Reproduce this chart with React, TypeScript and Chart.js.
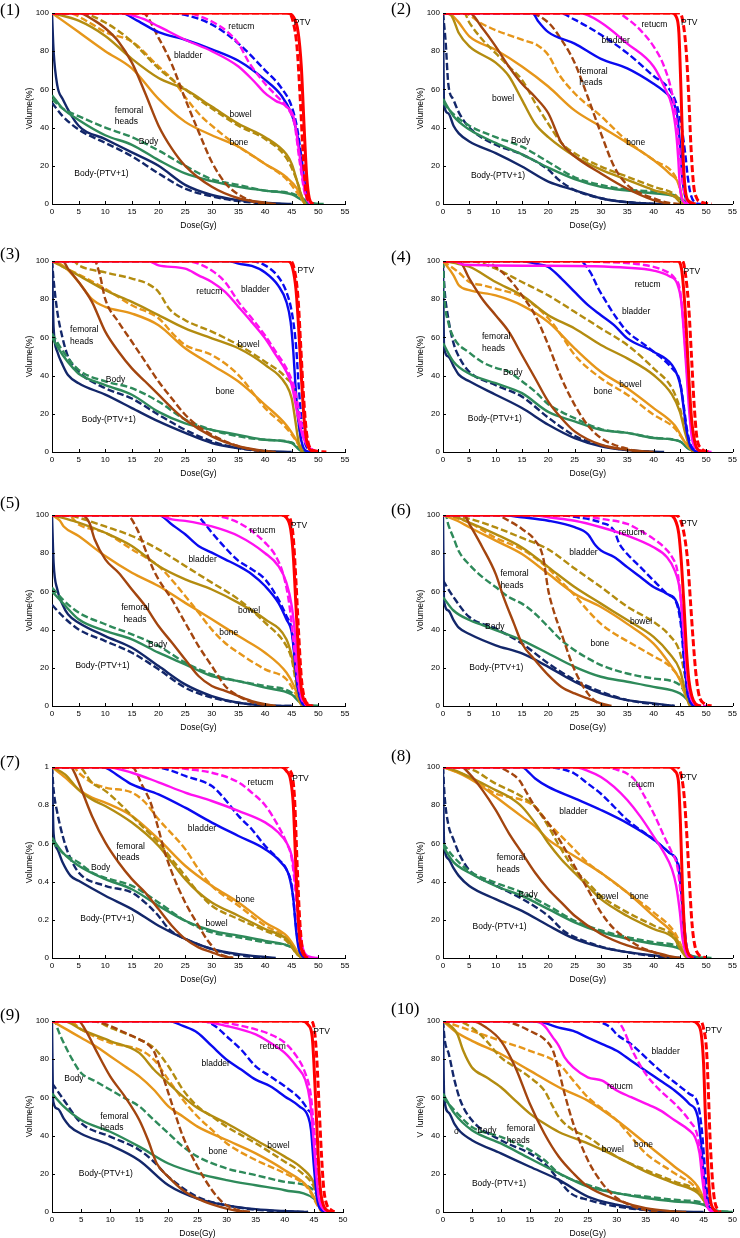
import React, { useEffect, useRef } from 'react';
import { Chart, registerables } from 'chart.js';
Chart.register(...registerables);
Chart.defaults.font.family = '"Liberation Sans", Arial, sans-serif';

type Pt = [number, number];
type Label = [string, number, number];

// ---------- tick labels ----------
const X_TICKS_55 = ['0', '5', '10', '15', '20', '25', '30', '35', '40', '45', '50', '55'];
const X_TICKS_50 = ['0', '5', '10', '15', '20', '25', '30', '35', '40', '45', '50'];
const Y_TICKS_PCT = ['0', '20', '40', '60', '80', '100'];
const Y_TICKS_FRAC = ['0', '0.2', '0.4', '0.6', '0.8', '1'];

// structures (order of curves inside each panel: solid, dashed)
const STRUCTURES = ['PTV', 'retucm', 'bladder', 'femoral heads', 'bowel', 'bone', 'Body', 'Body-(PTV+1)'];

// ---------- panel (1) ----------
const P1_PTV_S: Pt[] = [[0,100],[44,100],[45.3,98],[46.2,90],[46.8,72],[47.3,42],[47.8,15],[48.3,3],[49,0]];
const P1_PTV_D: Pt[] = [[0,100],[44.5,100],[45.3,95],[46,82],[46.6,55],[47.1,28],[47.6,8],[48.3,1],[49,0]];
const P1_REC_S: Pt[] = [[0,100],[13,100],[17,97],[20,93],[25,86],[30,80],[35,72],[38,64],[40,58],[42,54],[44,51],[45.5,44],[46.5,25],[47.5,6],[48.5,0]];
const P1_REC_D: Pt[] = [[0,100],[25,100],[28,98],[31,94],[33,90],[35,84],[37,74],[40,63],[42,57],[44,51],[45.5,42],[46.5,22],[47.5,5],[48.5,0]];
const P1_BLA_S: Pt[] = [[0,100],[13,100],[16,96],[20,90],[25,86],[30,81],[35,75],[40,65],[43,57],[45,47],[46,37],[46.8,22],[47.5,8],[48.2,1],[49,0]];
const P1_BLA_D: Pt[] = [[0,100],[22,100],[25,99],[30,94],[35,84],[40,70],[43,61],[45,51],[46,40],[46.8,25],[47.5,10],[48.3,1],[49,0]];
const P1_FEM_S: Pt[] = [[0,100],[5,100],[8,96],[10,92],[12.5,85],[15,74],[17.5,58],[20,41],[22.5,29],[25,20],[30,9],[35,3],[40,0.7],[42,0]];
const P1_FEM_D: Pt[] = [[0,100],[17,100],[20,87],[22.5,73],[25,55],[27.5,38],[30,22],[32.5,11],[35,5],[38,1],[40,0]];
const P1_BOW_S: Pt[] = [[0,100],[5,96],[10,88],[15,76],[20,66],[25,60],[30,51],[35,42],[40,35],[44,26],[45,21],[46,12],[47,3],[47.5,0]];
const P1_BOW_D: Pt[] = [[0,100],[5,100],[10,95],[15,85],[20,71],[25,60],[30,50],[35,41],[40,34],[44,24],[46,12],[47,3],[47.5,0]];
const P1_BON_S: Pt[] = [[0,100],[2,96],[5,90],[10,80],[15,71],[20,55],[25,43],[30,36],[35,30],[40,21],[44,14],[46,8],[47,2],[47.5,0]];
const P1_BON_D: Pt[] = [[0,100],[3,100],[7,95],[10,90],[15,85],[20,72],[23,64],[25,56],[28,46],[30,41],[35,30],[40,21],[44,13],[46,6],[47.5,0]];
const P1_BODY_S: Pt[] = [[0,57],[2,50],[5,44],[10,36],[15,31],[20,23],[25,16],[30,12],[35,9],[40,7],[45,5],[47,2],[48,0.5],[51,0]];
const P1_BODY_D: Pt[] = [[0,55],[2,50],[5,46],[10,40],[15,35],[20,28],[25,20],[30,13],[35,10],[40,7],[45,5.5],[47,3],[48,1],[50,0]];
const P1_BPT_S: Pt[] = [[0,100],[0.3,80],[1,62],[2,55],[5,41],[10,34],[15,27],[20,20],[25,10],[30,4.7],[35,2],[40,0.7],[45,0]];
const P1_BPT_D: Pt[] = [[0,53],[2,46],[5,39],[10,32],[15,25],[20,16],[25,8],[30,4],[35,1.5],[40,0.3],[43,0]];
const P1_LABELS: Label[] = [['PTV',45.4,95],['retucm',33.1,93],['bladder',22.9,77.6],['bowel',33.3,46.7],['femoral',11.8,49],['heads',11.8,43],['Body',16.3,32.7],['bone',33.3,32],['Body-(PTV+1)',4.2,15.7]];

// ---------- panel (2) ----------
const P2_PTV_S: Pt[] = [[0,100],[43.5,100],[44.3,98],[44.8,90],[45.2,60],[45.6,25],[46,8],[46.5,2],[48,0]];
const P2_PTV_D: Pt[] = [[0,100],[45,100],[45.6,95],[46.2,80],[46.7,55],[47.1,30],[47.6,10],[48.2,3],[49,1],[51,0]];
const P2_REC_S: Pt[] = [[0,100],[26,100],[30,95],[35,84],[40,72],[42,61.5],[43.5,51],[44.3,37],[44.7,23],[45,9],[45.5,2],[46.5,0]];
const P2_REC_D: Pt[] = [[0,100],[33,100],[35,97],[37.5,91],[40,82.5],[42,72],[43.5,58],[44.5,40.5],[45.2,20],[45.7,8],[46.5,1],[47.5,0]];
const P2_BLA_S: Pt[] = [[0,100],[17,100],[18,96],[20,90],[25,84],[30,76],[35,71],[40,63],[42,59],[43.5,54.5],[44.5,46],[45,32],[45.5,12.5],[46,4],[47,0]];
const P2_BLA_D: Pt[] = [[0,100],[22,100],[25,96.5],[30,88.6],[35,79],[40,67],[43,60],[44.5,51],[45.3,40.5],[46,26.6],[46.5,14],[47,5.6],[48,0.5],[49,0]];
const P2_FEM_S: Pt[] = [[0,100],[5,100],[7.5,92],[10,82.5],[12.5,72],[15,63],[17.5,56],[20,47.5],[22.5,32],[25,25],[30,16],[35,8],[40,2],[43,0]];
const P2_FEM_D: Pt[] = [[0,100],[16,100],[20,95],[22.5,86],[25,74],[27.5,56],[30,37],[32.5,19.6],[35,10],[37.5,5.6],[40,3],[43,0.5],[45,0]];
const P2_BOW_S: Pt[] = [[0,100],[1.5,99],[2,96.5],[3,89.5],[5,82.5],[10,74],[12.5,67],[15,54.5],[17.5,42],[20,35],[25,25],[30,18],[35,12.6],[40,7.3],[44,3.8],[45,1],[45.5,0]];
const P2_BOW_D: Pt[] = [[0,100],[4,100],[5,95],[7.5,86],[10,79],[12.5,72],[15,65],[17.5,53],[20,42],[22.5,32],[25,26.6],[30,19.6],[35,14.3],[40,9],[44,5],[45,2],[45.5,0]];
const P2_BON_S: Pt[] = [[0,100],[1,100],[2.7,96],[5,87.8],[10,80.8],[15,72],[20,61.5],[25,49],[30,40.5],[35,32],[40,23],[43,16],[45,9],[45.5,2],[46,0]];
const P2_BON_D: Pt[] = [[0,100],[4,100],[7,95],[10,91],[15,86],[18,83],[20,78],[22,68],[25,58],[30,46],[35,33],[40,23],[44,15],[45,8],[45.5,2],[46,0]];
const P2_BODY_S: Pt[] = [[0,55],[2,46],[5,39],[10,32],[15,26],[20,19],[25,13],[30,9],[35,7],[40,5.6],[44,4],[46,1],[47,0]];
const P2_BODY_D: Pt[] = [[0,53],[2,47],[5,41],[10,35],[15,30],[20,22],[25,14],[30,10],[35,7.5],[40,6.5],[44,4.5],[46,1.5],[48,0]];
const P2_BPT_S: Pt[] = [[0,100],[0.2,52],[1,47.5],[2,41],[3,37],[5,32.7],[10,26.6],[15,19.6],[20,11.7],[25,7.3],[30,3],[35,0.9],[40,0.2],[43,0]];
const P2_BPT_D: Pt[] = [[0,100],[0.5,85],[1,63],[2,54.5],[3,48],[5,40],[10,31],[15,26],[20,18],[22,12.6],[25,7.3],[30,3],[35,1],[40,0]];
const P2_LABELS: Label[] = [['PTV',45.2,95],['retucm',37.7,93.9],['bladder',30.1,85.5],['femoral',25.9,69.4],['heads',25.9,63.3],['bowel',9.3,54.9],['Body',12.9,33.2],['bone',34.8,32.2],['Body-(PTV+1)',5.3,14.7]];

// ---------- panel (3) ----------
const P3_PTV_S: Pt[] = [[0,100],[44.3,100],[45.2,96],[45.8,85],[46.3,65],[46.8,40],[47.3,18],[47.8,6],[48.5,1],[50,0]];
const P3_PTV_D: Pt[] = [[0,100],[44.8,100],[45.6,94],[46.2,80],[46.7,55],[47.2,30],[47.7,12],[48.3,3],[49.5,0.5],[51.5,0]];
const P3_REC_S: Pt[] = [[0,100],[18,100],[20,97.7],[25,96],[27.5,92.5],[30,89],[32.5,83.8],[35,76],[37.5,68],[40,59.5],[42,50.8],[44,42],[45,35],[46,21],[47,9],[48,3],[49,1],[50,0]];
const P3_REC_D: Pt[] = [[0,100],[25,100],[27.5,98.6],[30,95],[32.5,89],[35,78.6],[37.5,70],[40,61],[42,52.5],[44,43.8],[45.5,33.4],[46.5,19.5],[47.5,7],[48.5,2],[50,0]];
const P3_BLA_S: Pt[] = [[0,100],[33,100],[35,98.6],[37.5,97.4],[40,94],[42.5,87],[44,78.6],[44.8,68],[45.3,52.5],[45.7,35],[46.2,17.7],[46.8,6],[47.5,1],[48.5,0]];
const P3_BLA_D: Pt[] = [[0,100],[37,100],[40,97.7],[42.5,91.6],[44,83.8],[45,73.4],[45.8,56],[46.3,35],[46.8,17.7],[47.3,7],[48,1.5],[49,0]];
const P3_FEM_S: Pt[] = [[0,100],[2,100],[3,96],[5,89],[7.5,78.6],[10,63],[12.5,52.5],[15,43.8],[17.5,36.9],[20,30],[22.5,23],[25,16.9],[30,8.2],[35,3],[40,0.5],[42,0]];
const P3_FEM_D: Pt[] = [[0,100],[8,100],[9,92.5],[10,80],[12.5,68],[15,57.7],[17.5,47.3],[20,36.9],[22.5,28],[25,19.5],[27.5,13.4],[30,9],[32.5,5.6],[35,3],[38,1],[40,0]];
const P3_BOW_S: Pt[] = [[0,100],[5,92.5],[10,84.7],[15,78.6],[20,71.7],[25,64.7],[30,59.5],[35,54.3],[40,45.6],[44,35],[45,28],[45.7,16],[46.3,5],[47,0]];
const P3_BOW_D: Pt[] = [[0,100],[4,100],[5,97.7],[10,94],[15,90.8],[18,88],[20,83.8],[22,75],[25,69],[30,63],[35,56],[40,47.3],[44,38.6],[45.5,31.6],[46.3,15],[47,0]];
const P3_BON_S: Pt[] = [[0,100],[2,97.7],[5,89],[7.5,80],[10,76],[15,72.5],[20,66.4],[25,54.3],[30,45.6],[35,36.9],[40,24.7],[44,14],[46,5.5],[47,0]];
const P3_BON_D: Pt[] = [[0,100],[2,97],[5,93],[10,85.5],[15,76.8],[20,70],[23,61],[25,56],[30,50.8],[35,40.3],[40,23],[44,12.5],[46,5],[47,0]];
const P3_BODY_S: Pt[] = [[0,60],[2,50.8],[4,43.8],[5,41],[10,35],[15,30],[20,21],[25,15],[30,11.6],[35,9],[40,6.4],[45,4.7],[46.5,1],[48,0]];
const P3_BODY_D: Pt[] = [[0,62],[2,53],[5,43],[10,37],[15,33.4],[20,26.4],[25,17],[30,11.6],[35,8.2],[40,6.4],[45,5],[46.5,1.5],[48,0]];
const P3_BPT_S: Pt[] = [[0,100],[0.3,65],[1,52.5],[2,45.6],[3,40.3],[5,36],[10,30],[15,23],[20,16],[25,10],[30,4.7],[35,2],[40,0.5],[45,0]];
const P3_BPT_D: Pt[] = [[0,100],[0.3,90],[1,73.4],[2,59.5],[3,50],[5,42],[10,33.4],[15,28],[20,19.5],[25,11.6],[30,5.6],[35,2],[40,0.3],[42,0]];
const P3_LABELS: Label[] = [['PTV',46.1,95],['retucm',27.1,84],['bladder',35.5,85],['femoral',3.4,63.8],['heads',3.4,57.7],['bowel',34.8,56.3],['Body',10.1,37.7],['bone',30.7,31.7],['Body-(PTV+1)',5.6,16.9]];

// ---------- panel (4) ----------
const P4_PTV_S: Pt[] = [[0,100],[44.5,100],[45.3,96],[45.8,82],[46.2,64.7],[46.7,38.6],[47.2,17.7],[47.8,5.6],[48.5,1],[50,0]];
const P4_PTV_D: Pt[] = [[0,100],[45.5,100],[46.2,90],[46.7,75],[47.2,50],[47.7,25],[48.2,8],[49,2],[50.5,0]];
const P4_REC_S: Pt[] = [[0,100],[2,100],[4,98],[20,97.5],[35,96.5],[40,95],[43,92],[44.5,88],[45.3,78],[45.8,60],[46.3,40],[46.8,20],[47.3,7],[48,2],[49.5,0.5],[51,0]];
const P4_REC_D: Pt[] = [[0,100],[20,100],[30,99.5],[38,98],[42,95],[44,91],[45,85],[45.6,70],[46.2,48],[46.8,25],[47.3,10],[48,3],[49,0.5],[50.5,0]];
const P4_BLA_S: Pt[] = [[0,100],[15,100],[17.5,98.6],[20,96.9],[22.5,90.8],[25,83.8],[27.5,77],[30,71.6],[32.5,66.4],[35,59.5],[40,52.5],[43.5,45.6],[44.5,40.3],[45.2,33.4],[45.8,21],[46.3,10.8],[47,3],[48,0.5],[49,0]];
const P4_BLA_D: Pt[] = [[0,100],[26,100],[28,94],[29.5,85.6],[31,78.6],[33,70],[35,63],[37.5,57.7],[40,52.5],[43.5,43.8],[45,36.9],[45.7,24.7],[46.3,12.5],[47,4],[48,1],[49,0]];
const P4_FEM_S: Pt[] = [[0,100],[3,100],[5,90.8],[7.5,80],[10,71.6],[12.5,63],[15,50.8],[17.5,38.6],[20,26.4],[22.5,17.7],[25,10.8],[30,3.8],[35,1.2],[40,0]];
const P4_FEM_D: Pt[] = [[0,100],[8,100],[10,96.9],[12.5,90.8],[15,82],[17.5,71.6],[20,56],[22.5,38.6],[25,24.7],[27.5,14],[30,7.3],[32.5,3.8],[35,1.7],[37,0]];
const P4_BOW_S: Pt[] = [[0,100],[2,99],[5,97],[10,89],[15,82],[20,71.6],[25,64.7],[30,56],[35,49],[40,40.3],[43.5,30],[45,21],[46,10],[46.8,3],[47.5,0]];
const P4_BOW_D: Pt[] = [[0,100],[5,100],[10,96],[15,89],[20,82],[25,73.4],[30,64.7],[35,56],[40,43.8],[43.5,33.4],[45,23],[46,12],[46.8,4],[47.5,0]];
const P4_BON_S: Pt[] = [[0,100],[2,92.5],[3,87.3],[5,84.7],[10,82],[15,76.8],[20,68],[25,54.3],[30,42],[35,33.4],[40,23],[44,14],[46,5],[47.5,0]];
const P4_BON_D: Pt[] = [[0,100],[3,94],[5,89],[7.5,87.3],[10,85.5],[15,81.2],[20,70],[22.5,61],[25,50.8],[30,38.6],[35,30],[40,19.5],[44,12.5],[46,5],[47.5,0]];
const P4_BODY_S: Pt[] = [[0,57],[2,47.3],[5,41],[10,36],[15,30.8],[20,21],[25,16],[30,11.6],[35,10],[40,7.3],[45,5.6],[46.5,2],[48,0]];
const P4_BODY_D: Pt[] = [[0,100],[0.3,80],[1,68],[2,60],[5,52],[7.5,47],[10,44],[12.5,42],[15,37],[17.5,31.6],[20,25],[22.5,21],[25,17.7],[30,12],[35,10],[40,7.5],[45,5.5],[47,1],[48,0]];
const P4_BPT_S: Pt[] = [[0,100],[0.2,55],[1,50],[2,45],[3,40.5],[5,37],[10,30],[15,23],[20,14.3],[25,7.3],[30,3],[35,1],[40,0.2],[42,0]];
const P4_BPT_D: Pt[] = [[0,100],[0.3,85],[1,70],[2,57],[3,50],[5,42],[10,35],[15,29],[20,18],[25,8.5],[30,3.5],[35,1],[40,0]];
const P4_LABELS: Label[] = [['PTV',45.7,94.3],['retucm',36.4,87.7],['bladder',34,73.4],['femoral',7.4,60.3],['heads',7.4,54.3],['Body',11.4,41.7],['bowel',33.5,35.5],['bone',28.6,31.7],['Body-(PTV+1)',4.7,17.4]];

// ---------- panel (5) ----------
const P5_PTV_S: Pt[] = [[0,100],[43,100],[44,98.6],[44.8,92.5],[45.3,78.5],[45.8,52],[46.3,26],[46.8,9],[47.5,2],[48.5,0]];
const P5_PTV_D: Pt[] = [[0,100],[44,100],[44.8,97],[45.3,88],[45.8,65],[46.3,38],[46.8,15],[47.3,5],[48,1],[49,0]];
const P5_REC_S: Pt[] = [[0,100],[20,100],[22.5,97.7],[25,96.9],[30,94],[35,89],[40,80],[42.5,73.3],[44,64.6],[45,52.4],[45.7,35],[46.2,15.7],[46.8,5],[47.5,1.5],[48.5,0]];
const P5_REC_D: Pt[] = [[0,100],[30,100],[32.5,98.6],[35,96],[37.5,91.6],[40,85.5],[42,78.5],[43.5,68],[44.5,54],[45.3,35],[46,15.7],[46.7,5],[47.5,1],[48.5,0]];
const P5_BLA_S: Pt[] = [[0,100],[20,100],[22.5,95],[25,89.9],[27.5,83.8],[30,80.3],[32.5,76.8],[35,73.3],[37.5,69],[40,62.8],[42.5,54],[44,45.4],[45,38.4],[45.5,26.2],[46,12.2],[46.7,3],[47.5,0]];
const P5_BLA_D: Pt[] = [[0,100],[27,100],[28.5,96],[30,90.8],[32.5,82.9],[35,76],[37.5,71.6],[40,66.3],[42.5,55.8],[44,47.1],[45,40],[45.5,28],[46,13],[46.7,3],[47.5,0]];
const P5_FEM_S: Pt[] = [[0,100],[5.5,100],[7,96],[8,87.3],[10,76.8],[12.5,69.8],[15,61],[17.5,52.4],[20,41.9],[22.5,33.2],[25,24.4],[27.5,15.7],[30,10.5],[32.5,7.9],[35,5.2],[37.5,2.6],[40,0.9],[42,0]];
const P5_FEM_D: Pt[] = [[0,100],[14,100],[16,92.5],[17.5,82],[19,71.6],[20,66.3],[22.5,55.8],[25,43.6],[27.5,31.4],[30,20.9],[32.5,10.5],[35,5.2],[37.5,2],[40,0.5],[42,0]];
const P5_BOW_S: Pt[] = [[0,100],[5,96],[10,90.7],[15,83.8],[20,73.3],[25,66.3],[30,61],[35,54],[40,45.4],[44,34.9],[45,26.2],[45.8,15],[46.3,5],[47,0]];
const P5_BOW_D: Pt[] = [[0,100],[3,100],[5,98.6],[10,94],[15,89],[20,82],[25,73.3],[30,64.6],[35,55.8],[40,43.6],[44,31.4],[45,24.4],[45.8,12],[46.3,4],[47,0]];
const P5_BON_S: Pt[] = [[0,100],[1.5,97],[2.2,94],[5,89],[10,78.5],[15,69.8],[20,62.8],[25,54],[30,45.4],[35,36.6],[40,27.9],[44,17.5],[45.5,10],[46.5,2],[47,0]];
const P5_BON_D: Pt[] = [[0,100],[3,100],[5,95],[10,90.7],[15,82],[20,73.3],[22.5,66],[25,57.6],[27.5,48.9],[30,40],[32.5,33],[35,27.9],[40,19.2],[44,14],[46,5],[47,0]];
const P5_BODY_S: Pt[] = [[0,60],[2,54],[5,45.4],[10,39.3],[15,34.9],[20,27.9],[25,21.8],[30,15.7],[35,13],[40,9.6],[45,6],[46.5,2],[48,0.5],[50,0]];
const P5_BODY_D: Pt[] = [[0,62],[2,55.8],[5,48.9],[10,42.8],[15,37.5],[20,31.4],[25,22.7],[30,16.6],[35,13],[40,10.5],[45,7],[46.5,2.5],[48,0.5],[50,0]];
const P5_BPT_S: Pt[] = [[0,100],[0.3,75],[1,61],[2,53],[3,48],[5,43.6],[10,36.6],[15,30.5],[20,20.9],[25,11.3],[30,5.2],[35,1.7],[40,0.3],[45,0]];
const P5_BPT_D: Pt[] = [[0,53],[2,47],[5,40.1],[10,34],[15,27.9],[20,19.2],[25,9.6],[30,4.4],[35,1.7],[40,0.3],[45,0]];
const P5_LABELS: Label[] = [['PTV',44.8,94.2],['retucm',37.1,92],['bladder',25.6,76.8],['femoral',13,51.5],['heads',13.4,45],['bowel',34.9,49.7],['bone',31.4,38.4],['Body',18,32.3],['Body-(PTV+1)',4.4,20.9]];

// ---------- panel (6) ----------
const P6_PTV_S: Pt[] = [[0,100],[43,100],[44,98],[44.8,90],[45.3,74.4],[45.8,51.8],[46.2,31],[46.7,13.6],[47.3,4.9],[48,1],[49,0]];
const P6_PTV_D: Pt[] = [[0,100],[44,100],[45,98],[45.8,90],[46.5,75],[47,55],[47.5,35],[48,18],[48.6,6],[49.5,1.5],[51,0]];
const P6_REC_S: Pt[] = [[0,100],[17,100],[20,98.8],[25,97],[30,93.6],[35,89.2],[40,83.1],[42.5,78],[44,71],[45,60.5],[45.6,43],[46.2,22.3],[46.8,8],[47.5,2],[49,0]];
const P6_REC_D: Pt[] = [[0,100],[25,100],[30,98],[35,95.3],[37.5,91.8],[40,87.5],[42,83.1],[43.5,78],[44.5,71],[45.2,55],[45.8,34.4],[46.5,11.8],[47.3,3],[48.5,0.5],[50,0]];
const P6_BLA_S: Pt[] = [[0,100],[11,100],[15,98.8],[20,97],[25,93.6],[27.5,90],[29,84],[30,81.4],[32.5,78],[35,72.7],[37.5,67.5],[40,62.3],[42.5,58.8],[44.5,53.6],[45.3,43],[45.8,25.7],[46.3,10],[47,2],[48,0]];
const P6_BLA_D: Pt[] = [[0,100],[22,100],[25,99],[30,96],[32.5,91.8],[33.5,84.9],[35,79.6],[37.5,72.7],[40,65.7],[42.5,58.8],[44.5,52.7],[45.3,39.7],[45.8,22.3],[46.5,6],[47.5,0]];
const P6_FEM_S: Pt[] = [[0,100],[4,100],[5,95.3],[7.5,83],[10,69.2],[11.5,57],[13.5,43],[15,32.7],[17.5,24],[20,16.2],[22.5,10],[25,6.6],[27.5,4],[30,1.4],[32,0]];
const P6_FEM_D: Pt[] = [[0,100],[10,100],[12.5,97],[15,92.7],[17.5,86.6],[19,78],[20,60.5],[21,50],[22.5,37.9],[25,18.8],[27.5,6.6],[29.5,1.4],[31,0]];
const P6_BOW_S: Pt[] = [[0,100],[1,100],[5,96],[10,90],[15,83],[20,72.7],[25,62.3],[30,53.6],[35,45],[40,36.2],[43,27.5],[45,18.8],[46,8],[46.7,1],[47,0]];
const P6_BOW_D: Pt[] = [[0,100],[5,98],[10,93.5],[15,88],[20,82],[25,72],[30,62.3],[35,52],[40,44],[43,37],[45,28],[46,15],[46.7,3],[47,0]];
const P6_BON_S: Pt[] = [[0,100],[2.7,97],[5,93.6],[10,86.6],[15,79.6],[20,69.2],[25,58.8],[30,51.8],[35,43],[40,32.7],[43,22.3],[45,13.6],[46,6],[47,0]];
const P6_BON_D: Pt[] = [[0,100],[3,98],[5,96],[10,88],[15,82],[20,72],[22.5,65],[25,58],[27.5,50],[30,43],[32.5,38],[35,34],[40,26],[43,21],[45,14],[46,7],[47,0]];
const P6_BODY_S: Pt[] = [[0,57],[2,50],[5,45],[7.5,42.3],[10,39.7],[15,34.4],[20,27.5],[25,20.5],[30,15.3],[35,12.7],[40,10],[45,6.6],[46.5,3],[47,0.5],[48,0]];
const P6_BODY_D: Pt[] = [[0,100],[0.5,100],[1,95],[2,88],[3,81],[5,74],[7.5,67.5],[10,62.3],[12.5,57],[15,53.6],[17.5,48.3],[20,41.4],[22.5,34.4],[25,29.2],[27.5,25],[30,21.4],[35,17],[40,14.4],[45,11],[46.5,4],[47.5,0]];
const P6_BPT_S: Pt[] = [[0,100],[0.2,55],[1,50],[2,45],[3,41],[5,37.7],[10,31.8],[15,27.5],[20,20.5],[25,12.7],[30,6.6],[35,3.1],[40,1.4],[44,0]];
const P6_BPT_D: Pt[] = [[0,65.7],[2,57],[5,46.6],[10,40.5],[15,32.7],[20,22.3],[25,13.6],[30,7.5],[35,3.1],[40,1],[44,0]];
const P6_LABELS: Label[] = [['PTV',45.2,95.3],['retucm',33.4,91],['bladder',24,80.5],['femoral',10.9,69.2],['heads',10.9,62.8],['bowel',35.5,44.3],['Body',8,41.4],['bone',28,32.7],['Body-(PTV+1)',5,20]];

// ---------- panel (7) (fractions) ----------
const P7_PTV_S: Pt[] = [[0,1],[43,1],[44,0.98],[44.8,0.93],[45.3,0.8],[45.7,0.53],[46.1,0.27],[46.5,0.1],[47,0.03],[48,0]];
const P7_PTV_D: Pt[] = [[0,1],[44,1],[44.5,0.99],[45.5,0.85],[46,0.5],[46.5,0.2],[47,0.05],[48,0]];
const P7_REC_S: Pt[] = [[0,1],[10,1],[15,0.97],[20,0.92],[25,0.866],[30,0.822],[35,0.77],[40,0.71],[42.5,0.657],[44,0.605],[45,0.535],[45.7,0.4],[46.3,0.2],[47,0.06],[48,0.01],[50,0]];
const P7_REC_D: Pt[] = [[0,1],[22,1],[25,0.99],[30,0.97],[35,0.92],[37.5,0.866],[40,0.8],[42.5,0.69],[44,0.605],[45,0.52],[45.7,0.35],[46.3,0.15],[47,0.04],[48.5,0]];
const P7_BLA_S: Pt[] = [[0,1],[9,1],[10,0.997],[12.5,0.953],[15,0.909],[20,0.857],[25,0.787],[30,0.709],[35,0.639],[40,0.57],[43,0.5],[44.5,0.43],[45.3,0.31],[45.8,0.15],[46.3,0.05],[47,0.01],[48,0]];
const P7_BLA_D: Pt[] = [[0,1],[19,1],[22.5,0.98],[25,0.953],[30,0.9],[32.5,0.83],[35,0.744],[37.5,0.674],[40,0.587],[42.5,0.517],[44,0.465],[45,0.378],[45.6,0.22],[46.2,0.08],[47,0.02],[48,0]];
const P7_FEM_S: Pt[] = [[0,1],[3.5,1],[4.5,0.953],[6,0.848],[7.5,0.744],[10,0.605],[12.5,0.5],[15,0.413],[17.5,0.343],[20,0.256],[22.5,0.169],[25,0.1],[27.5,0.056],[30,0.03],[32,0.01],[34,0]];
const P7_FEM_D: Pt[] = [[0,1],[15,1],[17,0.9],[18.5,0.814],[20,0.674],[21,0.57],[22.5,0.448],[25,0.291],[27.5,0.169],[29,0.1],[30,0.064],[31,0.03],[32.5,0.01],[34,0]];
const P7_BOW_S: Pt[] = [[0,1],[2.5,0.96],[5,0.88],[7.5,0.83],[10,0.796],[15,0.709],[20,0.587],[22.5,0.5],[25,0.413],[27.5,0.343],[30,0.291],[35,0.221],[40,0.152],[44,0.1],[45,0.064],[46,0.02],[47,0]];
const P7_BOW_D: Pt[] = [[0,1],[5,1],[7.5,0.918],[10,0.875],[12.5,0.814],[15,0.744],[17.5,0.674],[20,0.605],[22.5,0.517],[25,0.43],[27.5,0.343],[30,0.274],[35,0.204],[40,0.143],[44,0.09],[45,0.056],[46,0.02],[47,0]];
const P7_BON_S: Pt[] = [[0,1],[2.5,0.944],[5,0.883],[7.5,0.84],[10,0.814],[15,0.744],[20,0.622],[25,0.483],[30,0.378],[35,0.291],[40,0.186],[44,0.117],[45.5,0.06],[46.5,0.01],[47,0]];
const P7_BON_D: Pt[] = [[0,1],[4,1],[5,0.97],[7.5,0.918],[10,0.892],[15,0.866],[17.5,0.814],[20,0.726],[25,0.57],[27.5,0.465],[30,0.378],[35,0.274],[40,0.169],[44,0.108],[45.5,0.05],[46.5,0.01],[47,0]];
const P7_BODY_S: Pt[] = [[0,0.63],[2,0.552],[5,0.483],[10,0.413],[15,0.36],[20,0.274],[25,0.195],[30,0.143],[35,0.117],[40,0.09],[45,0.056],[46.5,0.02],[48,0]];
const P7_BODY_D: Pt[] = [[0,0.61],[2,0.55],[5,0.5],[7.5,0.448],[10,0.42],[15,0.378],[20,0.291],[25,0.195],[30,0.134],[35,0.108],[40,0.082],[45,0.056],[46.5,0.02],[48,0]];
const P7_BPT_S: Pt[] = [[0,1],[0.3,0.65],[1,0.57],[2,0.5],[3.5,0.43],[5,0.404],[10,0.326],[15,0.256],[20,0.169],[25,0.1],[30,0.047],[35,0.02],[40,0.005],[42,0]];
const P7_BPT_D: Pt[] = [[0,1],[0.3,0.88],[1,0.76],[2,0.64],[3,0.552],[5,0.448],[10,0.378],[15,0.343],[17.5,0.29],[20,0.22],[22,0.15],[25,0.1],[30,0.047],[35,0.015],[40,0]];
const P7_LABELS: Label[] = [['PTV',45.1,0.94],['retucm',36.7,0.918],['bladder',25.5,0.678],['femoral',12.1,0.584],['heads',12.1,0.526],['Body',7.3,0.474],['bone',34.5,0.308],['bowel',28.8,0.178],['Body-(PTV+1)',5.3,0.207]];

// ---------- panel (8) ----------
const P8_PTV_S: Pt[] = [[0,100],[43,100],[44,98],[44.7,93],[45.1,70.6],[45.5,36],[46,10],[46.5,3],[47.5,0]];
const P8_PTV_D: Pt[] = [[0,100],[44.5,100],[45.3,95],[45.8,85],[46.3,65],[46.8,40],[47.3,18],[47.8,7],[48.5,2],[50,0]];
const P8_REC_S: Pt[] = [[0,100],[25,100],[27.5,98],[30,94.8],[32.5,89.6],[35,82.7],[37.5,74],[40,63.7],[42,55],[43.5,46.4],[44.3,37.7],[45,23.9],[45.5,10],[46.2,2],[47,0]];
const P8_REC_D: Pt[] = [[0,100],[31,100],[32.5,99],[35,96.5],[36.5,93],[38,86],[40,75.8],[42,63.7],[43.5,55],[44.5,48],[45.2,32.5],[45.8,15],[46.5,3],[47.5,0]];
const P8_BLA_S: Pt[] = [[0,100],[15,100],[16,98],[17.5,94],[20,89.6],[25,83.6],[30,77.5],[35,70.6],[40,62],[43,55],[44.5,49.8],[45.2,36],[45.7,17],[46.2,5],[47,0.5],[48,0]];
const P8_BLA_D: Pt[] = [[0,100],[19,100],[22.5,99],[25,96.5],[27.5,91.3],[30,86],[32.5,79.2],[35,72.3],[40,62],[43,55],[44.8,48],[45.4,34.3],[45.9,15.2],[46.5,3],[47.5,0]];
const P8_FEM_S: Pt[] = [[0,100],[3.5,100],[5,96.5],[7.5,87.9],[10,77.5],[12.5,65.4],[15,55],[17.5,44.6],[20,36],[22.5,29],[25,22.1],[30,12.6],[35,6.6],[40,3.1],[43,1],[45,0]];
const P8_FEM_D: Pt[] = [[0,100],[10,100],[12.5,97.4],[14.5,93],[16,86],[17.5,79.2],[20,70.6],[22.5,60.2],[25,48],[27.5,36],[30,23.9],[32.5,15.2],[35,10],[37.5,5.7],[40,3.1],[42,1],[44,0]];
const P8_BOW_S: Pt[] = [[0,100],[2.5,98],[5,94.8],[10,87.9],[12.5,84.4],[15,79.2],[17.5,70.6],[20,60.2],[22.5,51.6],[25,44.6],[27.5,37.7],[30,30.8],[35,22],[40,15.2],[44,10],[45,5],[46,1],[46.5,0]];
const P8_BOW_D: Pt[] = [[0,100],[5,99],[10,91.3],[15,84.4],[17.5,79.2],[20,68.9],[22.5,56.7],[25,46.4],[27.5,39.4],[30,32.5],[35,23.9],[40,17],[44,11],[45,6],[46,1],[46.5,0]];
const P8_BON_S: Pt[] = [[0,100],[2.5,97.4],[5,94],[7.5,89.6],[10,84.4],[12.5,79.2],[15,74],[17.5,68.9],[20,62],[25,53.3],[30,44.6],[35,34.3],[40,22],[44,11.8],[45.5,4],[46.5,0]];
const P8_BON_D: Pt[] = [[0,100],[5,94.8],[10,86],[12.5,84.4],[15,82.7],[17.5,79.2],[20,70.6],[22.5,63.7],[25,56.7],[27.5,49.8],[30,44.6],[35,34.3],[40,23.9],[44,13.5],[45.5,5],[46.5,0]];
const P8_BODY_S: Pt[] = [[0,58.5],[2,50.2],[5,44.6],[10,37.7],[15,32.5],[20,25.6],[25,18.7],[30,13.5],[35,10],[40,7.4],[45,4.8],[46.5,2],[48,0.5],[51,0]];
const P8_BODY_D: Pt[] = [[0,60],[2,53],[5,45.5],[10,39.4],[15,34.3],[20,27.3],[25,19.5],[30,14.4],[35,10.9],[40,8.3],[45,5.7],[46.5,2],[48,0.5],[51,0]];
const P8_BPT_S: Pt[] = [[0,100],[0.2,60],[1,52],[2,47],[3,43],[5,37.7],[10,30.8],[15,24.7],[20,17],[25,10],[30,5.7],[35,3.1],[40,1.4],[45,0]];
const P8_BPT_D: Pt[] = [[0,100],[0.3,85],[1,70],[2,62],[3,55],[5,46],[10,38],[15,31],[20,22],[23,14],[25,11],[30,6],[35,3],[40,1],[45,0]];
const P8_LABELS: Label[] = [['PTV',45.1,94.5],['retucm',35.2,90.5],['bladder',22.1,76.6],['femoral',10.2,52.4],['heads',10.2,46.4],['Body',14.3,33.4],['bowel',29.1,32.2],['bone',35.5,32],['Body-(PTV+1)',5.6,16.6]];

// ---------- panel (9) ----------
const P9_PTV_S: Pt[] = [[0,100],[43,100],[44,98],[44.7,92],[45,78],[45.4,51.8],[45.8,25.4],[46.2,9.6],[46.7,3],[47.5,0.5],[48.5,0]];
const P9_PTV_D: Pt[] = [[0,100],[44.5,100],[45.1,95],[45.5,80],[45.9,55],[46.3,30],[46.7,12],[47.2,4],[48,1],[48.5,0]];
const P9_REC_S: Pt[] = [[0,100],[25,100],[30,97.4],[35,93],[37.5,88.6],[40,83.3],[42,76.3],[43.5,69.3],[44.3,58.8],[44.8,43],[45.3,23.7],[45.8,8],[46.5,2],[47.5,0]];
const P9_REC_D: Pt[] = [[0,100],[28,100],[30,99],[35,95.6],[37.5,93],[40,88.6],[42,81.6],[43.5,72.8],[44.5,60.5],[45,43],[45.5,22],[46,7],[46.7,1.5],[47.5,0]];
const P9_BLA_S: Pt[] = [[0,100],[20,100],[22.5,97.4],[25,93.9],[27.5,86.8],[30,79.8],[32.5,74.6],[35,69.3],[37.5,65.8],[40,60.5],[42.5,55.3],[44,50],[44.5,43],[45,23.7],[45.5,8],[46,2],[47,0]];
const P9_BLA_D: Pt[] = [[0,100],[26,100],[28,97.4],[30,92],[32.5,85],[35,76.3],[37.5,71],[40,65.8],[42.5,59.6],[44,53.5],[44.8,48.2],[45.3,29],[45.8,11.4],[46.3,3],[47,0]];
const P9_FEM_S: Pt[] = [[0,100],[4.5,100],[6,93.9],[7.5,85],[10,71],[12.5,60.5],[15,48.2],[16.5,37.7],[18,25.4],[20,18.4],[22.5,11.4],[25,7],[27.5,4],[30,1.8],[32,0.5],[34,0]];
const P9_FEM_D: Pt[] = [[0,100],[7,100],[10,97.4],[12.5,93.9],[15,90.4],[16.5,87.7],[17.5,84.2],[18.5,76.3],[20,62.3],[21.5,48.2],[22.5,39.5],[25,23.7],[27.5,11.4],[29,6],[30,3.5],[32,1],[34,0]];
const P9_BOW_S: Pt[] = [[0,100],[2,100],[5,95.6],[10,89.5],[15,83.3],[17.5,74.6],[20,67.5],[22.5,60.5],[25,54.4],[30,46.5],[35,37.7],[40,29],[43,22.8],[45,15],[45.7,7],[46.3,1],[46.5,0]];
const P9_BOW_D: Pt[] = [[0,100],[7,100],[10,96.5],[15,90.4],[17.5,86],[20,76.3],[22.5,64],[25,55.3],[27.5,50],[30,44.7],[35,36],[40,26.3],[43,20.2],[45,13],[45.7,6],[46.3,1],[46.5,0]];
const P9_BON_S: Pt[] = [[0,100],[2.5,95.6],[5,91.2],[7.5,86.8],[10,81.6],[12.5,76.3],[15,71],[17.5,64],[20,55.3],[22.5,50],[25,44.7],[30,37.7],[35,30.7],[40,21.9],[44,13],[45.5,5],[46.3,0]];
const P9_BON_D: Pt[] = [[0,100],[3,100],[5,95.6],[10,88.6],[15,85],[17.5,79.8],[20,69.3],[22.5,58.8],[25,50],[27.5,43],[30,36],[35,27.2],[40,20.2],[44,12.3],[45.5,4],[46.3,0]];
const P9_BODY_S: Pt[] = [[0,62],[2,55.3],[5,48.2],[10,42],[15,34.2],[20,25.4],[25,20.2],[30,16.7],[35,14],[40,11.4],[45,7],[46,3],[46.5,0.5],[47,0]];
const P9_BODY_D: Pt[] = [[0,100],[0.5,100],[1,95.6],[2,88.6],[3.5,79.8],[5,72.8],[7.5,68.4],[10,64],[12.5,59.6],[15,55.3],[17.5,48.2],[20,41.2],[22.5,34.2],[25,29],[30,22.8],[35,19.3],[40,15.8],[45,11.4],[46,5],[46.5,1],[47,0]];
const P9_BPT_S: Pt[] = [[0,100],[0.2,58],[1,54],[2,49],[3,45],[5,41],[10,35],[15,27],[20,14],[25,7],[30,3.5],[35,1.5],[40,0.5],[44,0]];
const P9_BPT_D: Pt[] = [[0,67.5],[2,58.8],[5,46.5],[10,39.5],[15,32.5],[17.5,26.3],[20,18.4],[25,7.9],[30,3.5],[35,1.2],[40,0.3],[44,0]];
const P9_LABELS: Label[] = [['PTV',44.9,94.2],['retucm',35.7,86.8],['bladder',25.7,77.5],['Body',2.1,69.6],['femoral',8.3,50],['heads',8.3,43.9],['bowel',37,34.7],['bone',26.9,31.6],['Body-(PTV+1)',4.6,20.2]];

// ---------- panel (10) ----------
const P10_PTV_S: Pt[] = [[0,100],[43,100],[44,98.3],[44.6,93],[45,77.5],[45.3,51.5],[45.7,25.5],[46.1,8],[46.6,2],[47.5,0]];
const P10_PTV_D: Pt[] = [[0,100],[44.5,100],[45,96],[45.5,85],[45.8,65],[46.1,40],[46.5,18],[46.9,6],[47.5,1],[48,0]];
const P10_REC_S: Pt[] = [[0,100],[16,100],[17.5,97.4],[19,91.3],[20,87],[21,80.9],[22.5,75.7],[25,70.5],[27.5,68.8],[30,63.6],[32.5,60.1],[35,56.7],[37.5,53.2],[40,48],[42.5,42.8],[43.5,39.3],[44.3,30.7],[44.8,16.8],[45.3,6],[46,1],[47,0]];
const P10_REC_D: Pt[] = [[0,100],[30,100],[31,96.5],[32,89.6],[33,82.7],[35,72.3],[37.5,63.6],[40,56.7],[42.5,48],[44,39.3],[44.8,23.7],[45.3,9],[46,2],[47,0]];
const P10_BLA_S: Pt[] = [[0,100],[14,100],[17.5,99],[20,96.5],[22.5,94.8],[25,91.3],[27.5,87.9],[30,84.4],[32.5,79.2],[35,74],[37.5,68.8],[40,63.6],[42.5,56.7],[44,49.7],[44.5,37.6],[45,20.3],[45.5,8],[46,2],[47,0]];
const P10_BLA_D: Pt[] = [[0,100],[26,100],[27.5,99],[29,96.5],[30,93],[32.5,87.9],[35,80.9],[37.5,74],[40,67.9],[42.5,61.9],[44,56.7],[44.7,42.8],[45.2,23.7],[45.7,8],[46.3,2],[47,0]];
const P10_FEM_S: Pt[] = [[0,100],[5,100],[7.5,96.5],[10,89.6],[12.5,75.7],[15,56.7],[17.5,41.1],[20,28.9],[22.5,20.3],[25,13.3],[30,6.4],[35,2],[40,0.3],[42,0]];
const P10_FEM_D: Pt[] = [[0,100],[10,100],[12.5,98.3],[15,94.8],[17.5,90.5],[19,84.4],[20,74],[21,61.9],[22.5,46.3],[25,27.2],[27.5,15],[29,9.9],[30,7.3],[32,4],[35,1],[37,0]];
const P10_BOW_S: Pt[] = [[0,100],[1.5,97],[2.5,93],[3.5,84.4],[5,75.7],[7.5,70.5],[10,65.3],[12.5,58.3],[15,51.5],[17.5,46.3],[20,41.9],[25,35.9],[30,28.9],[35,21.1],[40,15],[44,9.9],[45.5,4],[46.5,0]];
const P10_BOW_D: Pt[] = [[0,100],[2,100],[5,96.5],[7.5,89.6],[10,80.9],[12.5,75.7],[15,70.5],[17.5,63.6],[19,55],[20,49.7],[22.5,42.8],[25,39.3],[27.5,34.1],[30,28.9],[35,22],[40,15.9],[44,10.7],[45.5,4],[46.5,0]];
const P10_BON_S: Pt[] = [[0,100],[2,94.8],[5,89.6],[10,82.7],[15,74],[20,65.3],[25,58.3],[30,48],[35,35.9],[40,23.7],[44,13.3],[45.5,4],[46.5,0]];
const P10_BON_D: Pt[] = [[0,100],[5,94.8],[10,89.6],[15,84.4],[20,77.5],[22.5,68.8],[25,60.1],[30,48],[32.5,39.3],[35,30.7],[40,20.3],[44,11.6],[45.5,4],[46.5,0]];
const P10_BODY_S: Pt[] = [[0,62],[2,51.5],[5,42.8],[10,35.9],[15,28],[20,20.3],[25,13.3],[30,9.9],[35,7.3],[40,5.5],[45,3.8],[46.5,1],[50,0]];
const P10_BODY_D: Pt[] = [[0,60],[2,53.2],[5,44.5],[10,39.3],[15,32.4],[17.5,27.2],[20,20.3],[25,14.2],[30,9.9],[35,8.1],[40,6.4],[45,4.7],[47,1],[50,0]];
const P10_BPT_S: Pt[] = [[0,100],[0.2,60],[1,52],[2,46],[3,42],[5,37.6],[10,30.7],[15,23.7],[20,16.8],[25,8.1],[30,3.8],[35,1.2],[40,0.3],[45,0]];
const P10_BPT_D: Pt[] = [[0,100],[0.3,90],[1,82.7],[2,68.8],[3,58.4],[5,48],[10,37.6],[15,30.7],[17.5,25.5],[20,16.8],[22,9.9],[25,6.4],[30,2.9],[35,1],[40,0]];
const P10_LABELS: Label[] = [['PTV',45.3,94.8],['bladder',36,83.9],['retucm',28.3,65.7],['Body',5.9,42.8],['o',1.9,42],['femoral',11,43.7],['heads',11,37.6],['bowel',27.4,32.4],['bone',33,35.5],['Body-(PTV+1)',5,15.1]];

// ---------- styling ----------
const COLORS = ['#ff0000', '#ff10f0', '#0a0af0', '#a3450f', '#b38c10', '#e6961a', '#2e8a5a', '#13276a'];
const WIDTHS = [3, 2.4, 2.4, 2.4, 2.4, 2.4, 2.4, 2.4];
const PLOT_TOPS = [13, 261, 515, 767, 1021];
const PLOT_H = 191;
const CANVAS_W = 370;
const CANVAS_H = 228;
const TOP_PAD = 10;

type PanelDef = {
  num: string; row: number; col: number; numY: number;
  curves: Pt[][]; labels: Label[];
  xTicks: string[]; yTicks: string[]; xMax: number; yMax: number; yStep: number; yTitle: string;
};

const PANELS: PanelDef[] = [
  { num: '(1)', row: 0, col: 0, numY: 10, curves: [P1_PTV_S, P1_PTV_D, P1_REC_S, P1_REC_D, P1_BLA_S, P1_BLA_D, P1_FEM_S, P1_FEM_D, P1_BOW_S, P1_BOW_D, P1_BON_S, P1_BON_D, P1_BODY_S, P1_BODY_D, P1_BPT_S, P1_BPT_D], labels: P1_LABELS, xTicks: X_TICKS_55, yTicks: Y_TICKS_PCT, xMax: 55, yMax: 100, yStep: 20, yTitle: 'Volume(%)' },
  { num: '(2)', row: 0, col: 1, numY: 9, curves: [P2_PTV_S, P2_PTV_D, P2_REC_S, P2_REC_D, P2_BLA_S, P2_BLA_D, P2_FEM_S, P2_FEM_D, P2_BOW_S, P2_BOW_D, P2_BON_S, P2_BON_D, P2_BODY_S, P2_BODY_D, P2_BPT_S, P2_BPT_D], labels: P2_LABELS, xTicks: X_TICKS_55, yTicks: Y_TICKS_PCT, xMax: 55, yMax: 100, yStep: 20, yTitle: 'Volume(%)' },
  { num: '(3)', row: 1, col: 0, numY: 254, curves: [P3_PTV_S, P3_PTV_D, P3_REC_S, P3_REC_D, P3_BLA_S, P3_BLA_D, P3_FEM_S, P3_FEM_D, P3_BOW_S, P3_BOW_D, P3_BON_S, P3_BON_D, P3_BODY_S, P3_BODY_D, P3_BPT_S, P3_BPT_D], labels: P3_LABELS, xTicks: X_TICKS_55, yTicks: Y_TICKS_PCT, xMax: 55, yMax: 100, yStep: 20, yTitle: 'Volume(%)' },
  { num: '(4)', row: 1, col: 1, numY: 257, curves: [P4_PTV_S, P4_PTV_D, P4_REC_S, P4_REC_D, P4_BLA_S, P4_BLA_D, P4_FEM_S, P4_FEM_D, P4_BOW_S, P4_BOW_D, P4_BON_S, P4_BON_D, P4_BODY_S, P4_BODY_D, P4_BPT_S, P4_BPT_D], labels: P4_LABELS, xTicks: X_TICKS_55, yTicks: Y_TICKS_PCT, xMax: 55, yMax: 100, yStep: 20, yTitle: 'Volume(%)' },
  { num: '(5)', row: 2, col: 0, numY: 503, curves: [P5_PTV_S, P5_PTV_D, P5_REC_S, P5_REC_D, P5_BLA_S, P5_BLA_D, P5_FEM_S, P5_FEM_D, P5_BOW_S, P5_BOW_D, P5_BON_S, P5_BON_D, P5_BODY_S, P5_BODY_D, P5_BPT_S, P5_BPT_D], labels: P5_LABELS, xTicks: X_TICKS_55, yTicks: Y_TICKS_PCT, xMax: 55, yMax: 100, yStep: 20, yTitle: 'Volume(%)' },
  { num: '(6)', row: 2, col: 1, numY: 510, curves: [P6_PTV_S, P6_PTV_D, P6_REC_S, P6_REC_D, P6_BLA_S, P6_BLA_D, P6_FEM_S, P6_FEM_D, P6_BOW_S, P6_BOW_D, P6_BON_S, P6_BON_D, P6_BODY_S, P6_BODY_D, P6_BPT_S, P6_BPT_D], labels: P6_LABELS, xTicks: X_TICKS_55, yTicks: Y_TICKS_PCT, xMax: 55, yMax: 100, yStep: 20, yTitle: 'Volume(%)' },
  { num: '(7)', row: 3, col: 0, numY: 762, curves: [P7_PTV_S, P7_PTV_D, P7_REC_S, P7_REC_D, P7_BLA_S, P7_BLA_D, P7_FEM_S, P7_FEM_D, P7_BOW_S, P7_BOW_D, P7_BON_S, P7_BON_D, P7_BODY_S, P7_BODY_D, P7_BPT_S, P7_BPT_D], labels: P7_LABELS, xTicks: X_TICKS_55, yTicks: Y_TICKS_FRAC, xMax: 55, yMax: 1, yStep: 0.2, yTitle: 'Volume(%)' },
  { num: '(8)', row: 3, col: 1, numY: 756, curves: [P8_PTV_S, P8_PTV_D, P8_REC_S, P8_REC_D, P8_BLA_S, P8_BLA_D, P8_FEM_S, P8_FEM_D, P8_BOW_S, P8_BOW_D, P8_BON_S, P8_BON_D, P8_BODY_S, P8_BODY_D, P8_BPT_S, P8_BPT_D], labels: P8_LABELS, xTicks: X_TICKS_55, yTicks: Y_TICKS_PCT, xMax: 55, yMax: 100, yStep: 20, yTitle: 'Volume(%)' },
  { num: '(9)', row: 4, col: 0, numY: 1015, curves: [P9_PTV_S, P9_PTV_D, P9_REC_S, P9_REC_D, P9_BLA_S, P9_BLA_D, P9_FEM_S, P9_FEM_D, P9_BOW_S, P9_BOW_D, P9_BON_S, P9_BON_D, P9_BODY_S, P9_BODY_D, P9_BPT_S, P9_BPT_D], labels: P9_LABELS, xTicks: X_TICKS_50, yTicks: Y_TICKS_PCT, xMax: 50, yMax: 100, yStep: 20, yTitle: 'Volume(%)' },
  { num: '(10)', row: 4, col: 1, numY: 1009, curves: [P10_PTV_S, P10_PTV_D, P10_REC_S, P10_REC_D, P10_BLA_S, P10_BLA_D, P10_FEM_S, P10_FEM_D, P10_BOW_S, P10_BOW_D, P10_BON_S, P10_BON_D, P10_BODY_S, P10_BODY_D, P10_BPT_S, P10_BPT_D], labels: P10_LABELS, xTicks: X_TICKS_50, yTicks: Y_TICKS_PCT, xMax: 50, yMax: 100, yStep: 20, yTitle: 'V  lume(%)' },
];

function makeDecor(p: PanelDef) {
  return {
    id: 'decor',
    afterDraw(chart: any) {
      const { ctx, chartArea: a, scales } = chart;
      const xs = scales.x, ys = scales.y;
      ctx.save();
      ctx.strokeStyle = '#000';
      ctx.lineWidth = 1;
      ctx.beginPath();
      xs.ticks.forEach((t: any) => {
        const px = Math.round(xs.getPixelForValue(t.value)) + 0.5;
        ctx.moveTo(px, a.bottom);
        ctx.lineTo(px, a.bottom - 3);
      });
      ys.ticks.forEach((t: any) => {
        const py = Math.round(ys.getPixelForValue(t.value)) + 0.5;
        ctx.moveTo(a.left, py);
        ctx.lineTo(a.left + 3, py);
      });
      ctx.stroke();
      ctx.fillStyle = '#000';
      ctx.font = '8.5px "Liberation Sans", Arial, sans-serif';
      ctx.textAlign = 'left';
      ctx.textBaseline = 'middle';
      p.labels.forEach(([t, x, y]) => ctx.fillText(t, xs.getPixelForValue(x), ys.getPixelForValue(y)));
      ctx.textAlign = 'center';
      ctx.fillText('Dose(Gy)', (a.left + a.right) / 2, a.bottom + 22);
      ctx.translate(a.left - 22, (a.top + a.bottom) / 2);
      ctx.rotate(-Math.PI / 2);
      ctx.fillText(p.yTitle, 0, 0);
      ctx.restore();
    },
  };
}

function Panel({ p }: { p: PanelDef }) {
  const ref = useRef<HTMLCanvasElement>(null);
  const yAxisW = p.col === 0 ? 52 : 73;
  const plotRight = p.col === 0 ? (p.xMax === 50 ? 343 : 345) : 364;
  const left = p.col === 0 ? 0 : 370;
  const top = PLOT_TOPS[p.row] - TOP_PAD;
  useEffect(() => {
    if (!ref.current) return;
    const chart = new Chart(ref.current, {
      type: 'line',
      data: {
        datasets: p.curves.map((c, i) => {
          const s = Math.floor(i / 2);
          return {
            label: STRUCTURES[s] + (i % 2 ? ' (dashed)' : ''),
            data: c.map(([x, y]) => ({ x, y })),
            borderColor: COLORS[s],
            backgroundColor: COLORS[s],
            borderWidth: WIDTHS[s],
            borderDash: i % 2 ? [7, 3] : [],
            pointRadius: 0,
            fill: false,
            cubicInterpolationMode: 'monotone' as const,
          };
        }),
      },
      options: {
        animation: false,
        responsive: false,
        events: [],
        layout: { padding: { top: TOP_PAD, right: CANVAS_W - plotRight, left: 0, bottom: 0 } },
        plugins: { legend: { display: false }, tooltip: { enabled: false } },
        scales: {
          x: {
            type: 'linear', min: 0, max: p.xMax,
            grid: { display: false, drawTicks: false },
            border: { display: true, color: '#000', width: 1 },
            ticks: { stepSize: 5, autoSkip: false, maxRotation: 0, padding: 3, color: '#000', font: { size: 8 }, callback: (_v: any, i: number) => p.xTicks[i] },
            afterFit: (s: any) => { s.height = CANVAS_H - TOP_PAD - PLOT_H; },
          },
          y: {
            type: 'linear', min: 0, max: p.yMax,
            grid: { display: false, drawTicks: false },
            border: { display: true, color: '#000', width: 1 },
            ticks: { stepSize: p.yStep, autoSkip: false, padding: 3, color: '#000', font: { size: 8 }, callback: (_v: any, i: number) => p.yTicks[i] },
            afterFit: (s: any) => { s.width = yAxisW; },
          },
        },
      },
      plugins: [makeDecor(p)],
    });
    return () => chart.destroy();
  }, []);
  return (
    <canvas
      ref={ref}
      width={CANVAS_W}
      height={CANVAS_H}
      style={{ position: 'absolute', left, top, width: CANVAS_W, height: CANVAS_H }}
    />
  );
}

export default function App() {
  return (
    <div style={{ position: 'absolute', left: 0, top: 0, width: 740, height: 1238, overflow: 'hidden', background: '#fff' }}>
      {PANELS.map((p) => (
        <React.Fragment key={p.num}>
          <Panel p={p} />
          <div
            style={{
              position: 'absolute',
              left: p.col === 0 ? 0 : 391,
              top: p.numY - 10,
              fontFamily: '"Liberation Serif", "Times New Roman", serif',
              fontSize: 17,
              lineHeight: '20px',
              color: '#000',
              whiteSpace: 'nowrap',
            }}
          >
            {p.num}
          </div>
        </React.Fragment>
      ))}
    </div>
  );
}
